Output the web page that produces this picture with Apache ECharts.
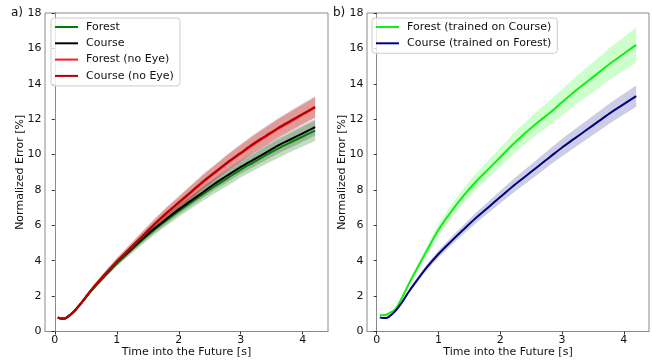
<!DOCTYPE html>
<html><head><meta charset="utf-8">
<script src="https://cdn.jsdelivr.net/npm/echarts@6/dist/echarts.min.js"></script>
<style>html,body{margin:0;padding:0;background:#fff}#c{width:652px;height:360px}</style>
</head><body><div id="c"></div>
<script>
// ---- data ----
const timeS = [0.05,0.1,0.15,0.2,0.3,0.4,0.5,0.6,0.8,1.0,1.2,1.4,1.6,1.8,2.0,2.2,2.4,2.6,2.8,3.0,3.2,3.4,3.6,3.8,4.0,4.2];
const xTicks = [0,1,2,3,4];
// panel a
const forestMean = [0.79,0.73,0.73,0.81,1.09,1.48,1.92,2.35,3.12,3.86,4.50,5.13,5.72,6.27,6.80,7.30,7.78,8.25,8.70,9.15,9.55,9.95,10.33,10.68,11.02,11.35];
const forestStd  = [0.03,0.03,0.03,0.04,0.06,0.08,0.10,0.12,0.15,0.19,0.22,0.25,0.28,0.30,0.33,0.35,0.38,0.40,0.43,0.45,0.47,0.50,0.52,0.54,0.56,0.58];
const courseMean = [0.80,0.74,0.74,0.82,1.10,1.49,1.93,2.37,3.15,3.90,4.55,5.20,5.80,6.35,6.90,7.40,7.90,8.40,8.85,9.30,9.70,10.10,10.50,10.85,11.20,11.55];
const courseStd  = [0.03,0.03,0.03,0.04,0.05,0.07,0.09,0.11,0.14,0.17,0.20,0.22,0.25,0.27,0.29,0.31,0.33,0.35,0.37,0.39,0.41,0.42,0.44,0.46,0.47,0.48];
const forestNoEyeMean = [0.79,0.73,0.72,0.80,1.09,1.49,1.94,2.39,3.18,3.93,4.62,5.31,6.00,6.65,7.25,7.85,8.45,9.00,9.55,10.05,10.55,11.00,11.45,11.85,12.25,12.65];
const forestNoEyeStd  = [0.03,0.03,0.03,0.04,0.06,0.08,0.10,0.12,0.16,0.19,0.22,0.25,0.28,0.31,0.34,0.37,0.40,0.42,0.45,0.47,0.49,0.51,0.53,0.55,0.57,0.58];
const courseNoEyeMean = [0.78,0.72,0.72,0.80,1.10,1.50,1.95,2.40,3.20,3.95,4.65,5.35,6.05,6.70,7.30,7.90,8.50,9.05,9.60,10.10,10.60,11.05,11.50,11.90,12.30,12.70];
const courseNoEyeStd  = [0.03,0.03,0.03,0.04,0.06,0.08,0.10,0.12,0.16,0.20,0.23,0.26,0.29,0.32,0.35,0.38,0.41,0.43,0.46,0.48,0.50,0.52,0.54,0.56,0.58,0.60];
// panel b
const forestOnCourseMean = [0.93,0.92,0.95,1.03,1.25,1.85,2.55,3.22,4.50,5.75,6.75,7.65,8.45,9.15,9.85,10.55,11.20,11.80,12.35,12.95,13.55,14.10,14.65,15.20,15.70,16.20];
const forestOnCourseStd  = [0.04,0.04,0.04,0.05,0.07,0.10,0.13,0.17,0.24,0.32,0.37,0.42,0.46,0.50,0.54,0.58,0.62,0.66,0.70,0.74,0.78,0.82,0.86,0.90,0.95,1.00];
const courseOnForestMean = [0.80,0.76,0.76,0.84,1.15,1.60,2.15,2.65,3.58,4.38,5.08,5.75,6.40,7.00,7.60,8.20,8.75,9.30,9.85,10.40,10.90,11.40,11.90,12.40,12.85,13.30];
const courseOnForestStd  = [0.03,0.03,0.03,0.04,0.06,0.08,0.10,0.12,0.16,0.20,0.23,0.26,0.29,0.32,0.35,0.38,0.41,0.44,0.46,0.49,0.51,0.53,0.55,0.57,0.59,0.60];

const FONT = 'DejaVu Sans';
const pairs = (ys) => timeS.map((t,i)=>[t, ys[i]]);
function band(id, idx, mean, std, color){
  return {type:'custom', name:id, xAxisIndex:idx, yAxisIndex:idx, silent:true, z:1,
    data:[[timeS[0], mean[0]]],
    renderItem:function(params, api){
      const up = timeS.map((t,i)=>api.coord([t, mean[i]+std[i]]));
      const lo = timeS.map((t,i)=>api.coord([t, mean[i]-std[i]])).reverse();
      return {type:'polygon', shape:{points: up.concat(lo)}, style:{fill:color}};
    }};
}
function line(name, idx, mean, color){
  return {type:'line', name:name, xAxisIndex:idx, yAxisIndex:idx, data:pairs(mean), symbol:'none', showSymbol:false, smooth:0.3,
    lineStyle:{width:2, color:color}, itemStyle:{color:color}, z:3};
}
function xAx(idx){
  return {type:'value', gridIndex:idx, min:-0.1575, max:4.4075,
    name:'Time into the Future [s]', nameLocation:'middle', nameGap:15, nameMoveOverlap:false,
    nameTextStyle:{fontFamily:FONT, fontSize:11, color:'#111'},
    axisLine:{show:true, lineStyle:{color:'#8a8a8a', width:1}},
    axisTick:{show:true, length:3, customValues:xTicks, lineStyle:{color:'#333'}},
    axisLabel:{customValues:xTicks, margin:3, fontFamily:FONT, fontSize:11, color:'#111'},
    splitLine:{show:false}};
}
function yAx(idx){
  return {type:'value', gridIndex:idx, min:0, max:18, interval:2,
    name:'Normalized Error [%]', nameLocation:'middle', nameGap:19, nameMoveOverlap:false,
    nameTextStyle:{fontFamily:FONT, fontSize:11, color:'#111'},
    axisLine:{show:true, lineStyle:{color:'#8a8a8a', width:1}},
    axisTick:{show:true, length:3, lineStyle:{color:'#333'}},
    axisLabel:{margin:3.5, fontFamily:FONT, fontSize:11, color:'#111'},
    splitLine:{show:false}};
}
const legendCommon = {orient:'vertical', icon:'rect', itemWidth:23, itemHeight:2, itemGap:2.3,
  backgroundColor:'rgba(255,255,255,0.8)', borderColor:'#cccccc', borderWidth:1, borderRadius:3,
  textStyle:{fontFamily:FONT, fontSize:11, color:'#111', lineHeight:14, padding:[0,0,0,3]}};

const chart = echarts.init(document.getElementById('c'), null, {renderer:'canvas'});
chart.setOption({
  animation:false,
  backgroundColor:'#fff',
  title:[
    {text:'a)', left:11, top:7, padding:0, textStyle:{fontFamily:FONT, fontSize:12, fontWeight:'normal', color:'#111'}},
    {text:'b)', left:333, top:7, padding:0, textStyle:{fontFamily:FONT, fontSize:12, fontWeight:'normal', color:'#111'}}
  ],
  grid:[
    {left:45, top:13, width:283, height:318.5, outerBoundsMode:'none', containLabel:false, show:true, borderColor:'#8a8a8a', borderWidth:1, backgroundColor:'transparent'},
    {left:367, top:13, width:282, height:318.5, outerBoundsMode:'none', containLabel:false, show:true, borderColor:'#8a8a8a', borderWidth:1, backgroundColor:'transparent'}
  ],
  xAxis:[xAx(0), xAx(1)],
  yAxis:[yAx(0), yAx(1)],
  legend:[
    Object.assign({}, legendCommon, {left:51, top:18, padding:[2,6,3,4],
      data:['Forest','Course','Forest (no Eye)','Course (no Eye)']}),
    Object.assign({}, legendCommon, {left:372, top:18, padding:[2,6,3,4],
      data:['Forest (trained on Course)','Course (trained on Forest)']})
  ],
  series:[
    band('bF',0,forestMean,forestStd,'rgba(0,128,0,0.25)'),
    band('bC',0,courseMean,courseStd,'rgba(0,0,0,0.18)'),
    band('bFN',0,forestNoEyeMean,forestNoEyeStd,'rgba(255,0,0,0.2)'),
    band('bCN',0,courseNoEyeMean,courseNoEyeStd,'rgba(139,0,0,0.25)'),
    band('bFC',1,forestOnCourseMean,forestOnCourseStd,'rgba(0,255,0,0.2)'),
    band('bCF',1,courseOnForestMean,courseOnForestStd,'rgba(0,0,128,0.2)'),
    line('Forest',0,forestMean,'#008000'),
    line('Course',0,courseMean,'#000000'),
    line('Forest (no Eye)',0,forestNoEyeMean,'#ff1a1a'),
    line('Course (no Eye)',0,courseNoEyeMean,'#b00000'),
    line('Forest (trained on Course)',1,forestOnCourseMean,'#11ee11'),
    line('Course (trained on Forest)',1,courseOnForestMean,'#000080')
  ]
});
</script></body></html>
